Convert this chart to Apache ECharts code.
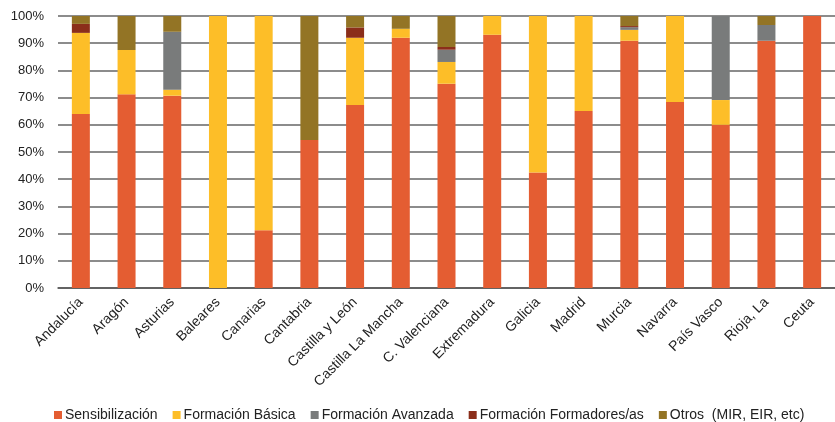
<!DOCTYPE html>
<html><head><meta charset="utf-8">
<script src="https://cdn.jsdelivr.net/npm/echarts@6/dist/echarts.min.js"></script>
<style>html,body{margin:0;padding:0;background:#fff}#c{width:835px;height:422px}</style>
</head><body><div id="c"></div>
<script>
const categories = ["Andalucía","Aragón","Asturias","Baleares","Canarias","Cantabria","Castilla y León","Castilla La Mancha","C. Valenciana","Extremadura","Galicia","Madrid","Murcia","Navarra","País Vasco","Rioja, La","Ceuta"];
const sensibilizacion = [64.0,71.2,70.7,0,21.2,54.4,67.3,92.0,75.1,93.1,42.5,65.1,90.9,68.4,60.0,90.9,100];
const formacionBasica = [29.8,16.3,2.2,100,78.8,0,24.7,3.3,8.0,6.9,57.5,34.9,4.0,31.6,9.1,0,0];
const formacionAvanzada = [0,0,21.3,0,0,0,0,0,4.5,0,0,0,1.0,0,30.9,5.8,0];
const formacionFormadores = [3.3,0,0,0,0,0,3.8,0,1.0,0,0,0,0.4,0,0,0,0];
const otros = [2.9,12.5,5.8,0,0,45.6,4.2,4.7,11.4,0,0,0,3.7,0,0,3.3,0];
const yTicks = [0,10,20,30,40,50,60,70,80,90,100];
const seriesNames = ["Sensibilización","Formación Básica","Formación Avanzada","Formación Formadores/as","Otros  (MIR, EIR, etc)"];
const colors = ["#E45D32","#FDBE28","#797B7B","#8B2E1A","#937425"];
const dataSets = [sensibilizacion, formacionBasica, formacionAvanzada, formacionFormadores, otros];

const chart = echarts.init(document.getElementById('c'));
const font = 'Helvetica, "Liberation Sans", Arial, sans-serif';
chart.setOption({
  animation: false,
  color: colors,
  grid: {left: 58, right: -4, top: 16, bottom: 134},
  legend: {
    top: 408, left: 54, itemWidth: 8, itemHeight: 8, itemGap: 15, padding: 0,
    icon: 'rect',
    textStyle: {fontFamily: font, fontSize: 14, color: '#222', padding: [0,0,0,-2]},
    data: seriesNames
  },
  xAxis: {
    type: 'category', data: categories,
    axisLine: {lineStyle: {color: '#555', width: 1.5}},
    axisTick: {show: false},
    axisLabel: {rotate: 45, interval: 0, fontFamily: font, fontSize: 14, color: '#222', margin: 12}
  },
  yAxis: {
    type: 'value', min: 0, max: 100, interval: 10,
    axisLine: {show: false}, axisTick: {show: false},
    axisLabel: {formatter: v => v + '%', fontFamily: font, fontSize: 13, color: '#222', margin: 14},
    splitLine: {lineStyle: {color: '#666', width: 1.5}}
  },
  series: dataSets.map((d, i) => ({
    name: seriesNames[i], type: 'bar', stack: 'total', barWidth: 18,
    data: d
  }))
});
</script></body></html>
